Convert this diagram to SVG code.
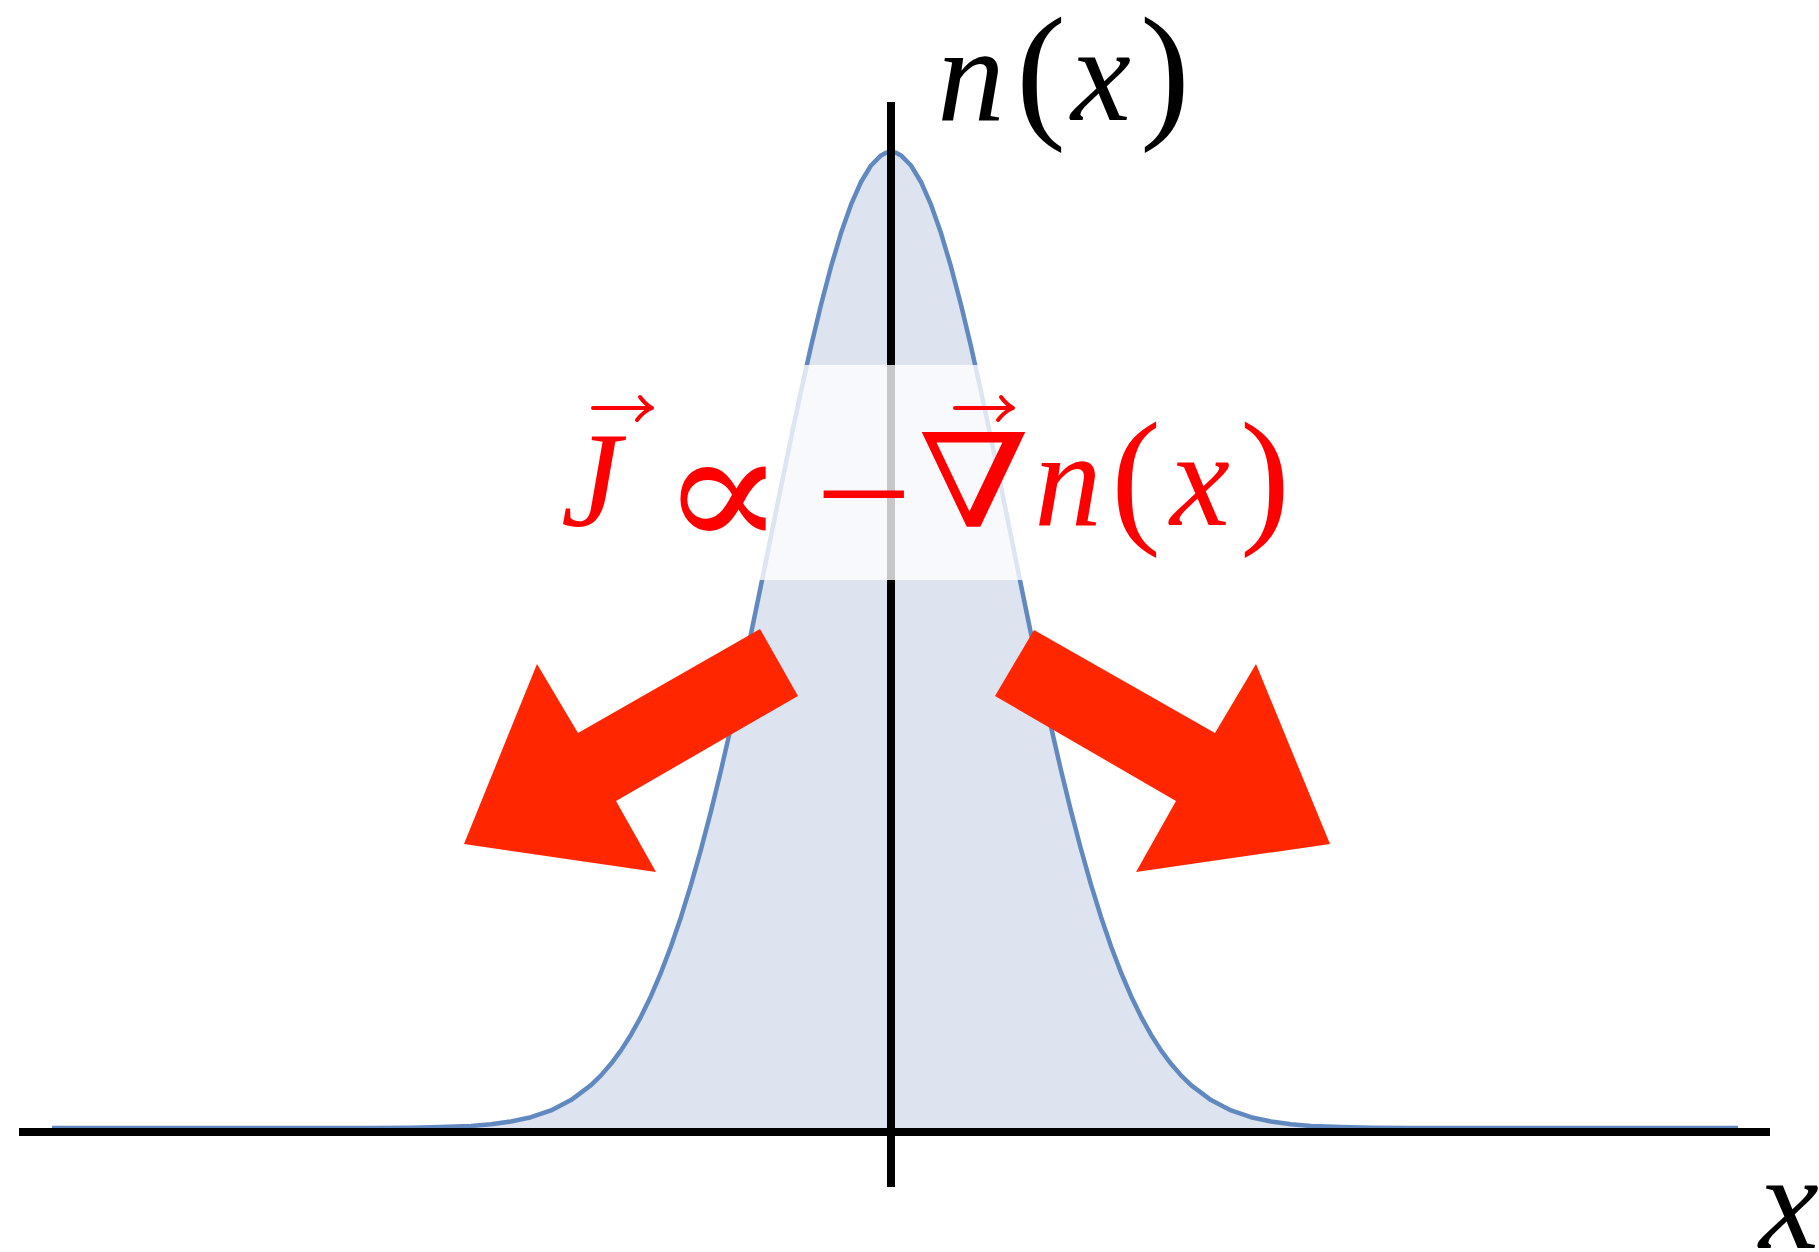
<svg xmlns="http://www.w3.org/2000/svg" width="1819" height="1252" viewBox="0 0 1819 1252">
<style>
.it{font-family:"Liberation Serif",serif;font-style:italic;font-size:135px;text-anchor:middle}
.pr{font-family:"Liberation Serif",serif;font-size:150px;text-anchor:middle}
.sy{font-family:"DejaVu Serif",serif;text-anchor:middle}
.blk{fill:#000}
.red{fill:#FF0000}
.vec{fill:none;stroke:#FF0000;stroke-width:4;stroke-linecap:round;stroke-linejoin:round}
.bigarrow{fill:#FF2600}
.axis{stroke:#000;stroke-width:8;fill:none}
</style>
<defs>
<path id="gauss" d="M52,1128 L371,1128 L411,1127.7 L441,1127.1 L471,1125.9 L491,1124.2 L511,1121.5 L531,1117.2 L551,1110.4 L571,1100.1 L591,1085.1 L601,1075.4 L611,1063.8 L621,1050.4 L631,1034.7 L641,1016.6 L651,995.9 L661,972.5 L671,946.2 L681,916.9 L691,884.6 L701,849.3 L711,811.1 L721,770.2 L731,726.8 L741,681.2 L751,633.8 L761,585.2 L771,536 L781,486.8 L791,438.3 L801,391.3 L811,346.5 L821,304.7 L831,266.7 L841,233.1 L851,204.7 L861,182 L871,165.5 L881,155.4 L886,152.8 L891,152 L896,152.8 L901,155.4 L911,165.5 L921,182 L931,204.7 L941,233.1 L951,266.7 L961,304.7 L971,346.5 L981,391.3 L991,438.3 L1001,486.8 L1011,536 L1021,585.2 L1031,633.8 L1041,681.2 L1051,726.8 L1061,770.2 L1071,811.1 L1081,849.3 L1091,884.6 L1101,916.9 L1111,946.2 L1121,972.5 L1131,995.9 L1141,1016.6 L1151,1034.7 L1161,1050.4 L1171,1063.8 L1181,1075.4 L1191,1085.1 L1211,1100.1 L1231,1110.4 L1251,1117.2 L1271,1121.5 L1291,1124.2 L1311,1125.9 L1341,1127.1 L1371,1127.7 L1411,1128 L1738,1128"/>
</defs>
<rect width="1819" height="1252" fill="#fff"/>
<g id="density">
<use href="#gauss" fill="#DDE4EF" stroke="none"/>
<use href="#gauss" fill="none" stroke="#6189C0" stroke-width="4.5" stroke-linejoin="round"/>
</g>
<g id="axes">
<line class="axis" x1="19" y1="1132" x2="1770" y2="1132"/>
<line class="axis" x1="891" y1="102" x2="891" y2="1187"/>
</g>
<rect id="formula-backdrop" x="540" y="365" width="750" height="215" fill="#fff" fill-opacity="0.78"/>
<g id="label-n">
<text class="it blk" x="971" y="120">n</text>
<text class="pr blk" x="1041" y="121">(</text>
<text class="it blk" x="1101" y="120">x</text>
<text class="pr blk" x="1165" y="121">)</text>
</g>
<g id="label-x">
<text class="it blk" x="1789" y="1248">x</text>
</g>
<g id="formula">
<text class="it red" x="591" y="526">J</text>
<text class="sy red" x="723" y="549" font-size="168" transform="translate(723,0) scale(1.1,1) translate(-723,0)">∝</text>
<text class="pr red" x="864" y="544" font-size="175" transform="translate(864,0) scale(1.15,1) translate(-864,0)">−</text>
<text class="sy red" x="974" y="527" font-size="130" transform="translate(974,0) scale(1.24,1) translate(-974,0)">∇</text>
<text class="it red" x="1068" y="525">n</text>
<text class="pr red" x="1136" y="526">(</text>
<text class="it red" x="1200" y="525">x</text>
<text class="pr red" x="1265" y="526">)</text>
<path class="vec" d="M593,408 H650 M640,397 Q646,405 652,408 Q644,411 637,420"/>
<path class="vec" d="M955,408 H1011 M1001,397 Q1007,405 1013,408 Q1005,411 998,420"/>
</g>
<g id="flux-arrows">
<polygon id="flux-left" class="bigarrow" points="760,629 578,733 537,664 464,844 656,872 616,801 798,696"/>
<polygon id="flux-right" class="bigarrow" points="1034,630 1215,733 1256,664 1330,844 1136,872 1176,801 995,696"/>
</g>
</svg>
